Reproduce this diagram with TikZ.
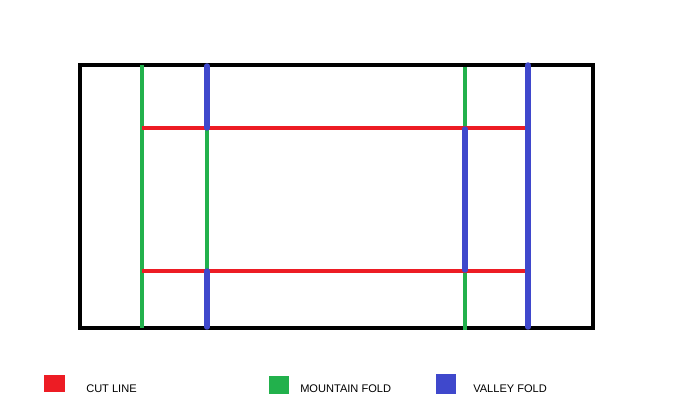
\documentclass[tikz,border=0pt]{standalone}
\usepackage{fontspec}
\setmainfont{Liberation Sans}
\usetikzlibrary{positioning}

\definecolor{cutred}{RGB}{237,28,36}
\definecolor{mountgreen}{RGB}{34,177,76}
\definecolor{valleyblue}{RGB}{63,72,204}

\begin{document}
\begin{tikzpicture}[
        x=0.75pt, y=-0.75pt,
        border/.style={draw=black, line width=2.4pt},
        cut/.style={draw=cutred, line width=2.5pt},
        mountain/.style={draw=mountgreen, line width=2.3pt},
        valley/.style={draw=valleyblue, line width=4.1pt, line cap=round},
        swatch/.style={draw=none, inner sep=0pt, minimum width=15.5pt, minimum height=13pt},
        legtext/.style={inner sep=0pt, anchor=west, font=\fontsize{8.3}{10}\selectfont}
    ]
    \useasboundingbox (0,0) rectangle (700,418);

    % Sheet
    \draw[border] (80,65) rectangle (593,328);

    % Mountain folds
    \draw[mountain] (142,65) -- (142,328);
    \draw[mountain] (207,128) -- (207,271);
    \draw[mountain] (465,67) -- (465,128);
    \draw[mountain] (465,271) -- (465,330);

    % Cut lines
    \draw[cut] (142,128) -- (528,128);
    \draw[cut] (142,271) -- (528,271);

    % Valley folds
    \draw[valley] (207,66) -- (207,128);
    \draw[valley] (207,271) -- (207,327);
    \draw[valley] (465,129) -- (465,270);
    \draw[valley] (528,65) -- (528,327);

    % Legend
    \node[swatch, fill=cutred] (keycut) at (54.5,383.5) {};
    \node[legtext] (txtcut) at (86,389) {CUT LINE};
    \node[swatch, fill=mountgreen] (keymount) at (279,385) {};
    \node[legtext] (txtmount) at (300,389) {MOUNTAIN FOLD};
    \node[swatch, fill=valleyblue, minimum width=14.5pt, minimum height=14.5pt] (keyvalley) at (446,384) {};
    \node[legtext] (txtvalley) at (473,389) {VALLEY FOLD};

    \end{tikzpicture}
\end{document}
